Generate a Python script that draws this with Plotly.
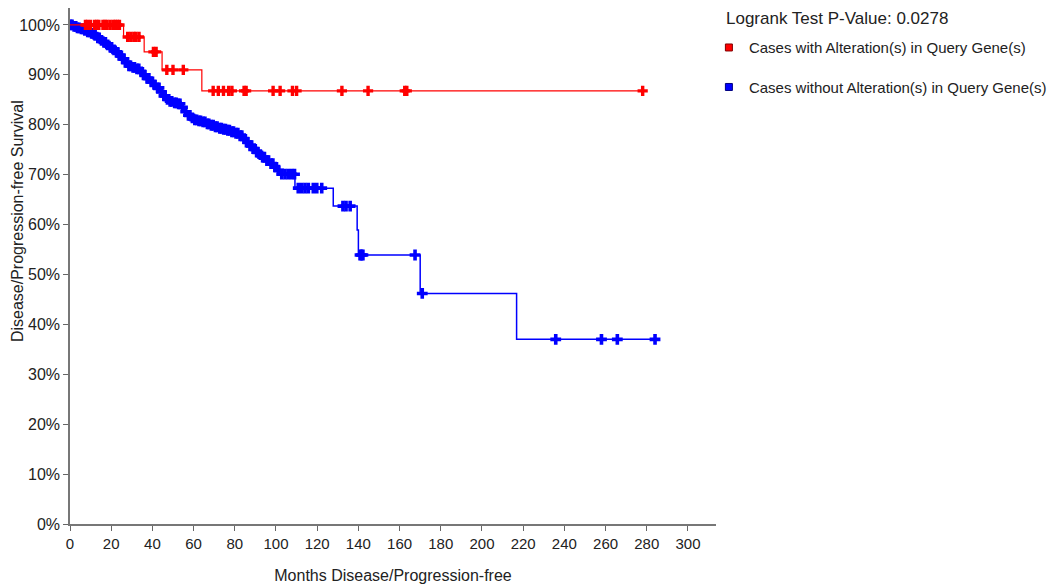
import plotly.graph_objects as go

# ---- data (months, survival fraction)
red_time = [0, 26, 36, 44.7, 64, 278]
red_surv = [1.0, 0.976, 0.946, 0.910, 0.868, 0.868]
red_cens = [7.5, 8.5, 10, 12, 13, 14, 16, 17, 18, 19.5, 21, 22, 23, 24,
            28, 29.5, 31, 32, 33.5, 40.5, 41.8, 47, 50, 55,
            69.5, 72, 74.5, 77, 78.6, 84.5, 85.5, 98.6, 102, 108, 110,
            132, 144.7, 162.5, 163.5, 278]

blue_time = [0, 1.5, 3, 5, 6.5, 8, 10, 11.5, 13, 14.5, 16, 17.5, 19, 20.5, 22,
             23.5, 25, 26.5, 28, 30, 32, 34, 35.5, 37, 39, 40.5, 42, 43.5, 45,
             46.5, 48, 50, 52, 54, 55.5, 57, 58.5, 60, 62, 64, 66, 68, 70, 72,
             74, 76, 78, 80, 82, 84, 85.5, 87, 88.5, 90, 91.5, 93, 95, 97, 99,
             100.5, 102, 109.2, 127.8, 139.4, 140, 170, 216.8, 284]
blue_surv = [1.0, 0.997, 0.994, 0.992, 0.989, 0.986, 0.983, 0.979, 0.974, 0.969,
             0.965, 0.960, 0.955, 0.950, 0.945, 0.939, 0.932, 0.925, 0.918, 0.915,
             0.912, 0.906, 0.900, 0.893, 0.886, 0.880, 0.874, 0.866, 0.858, 0.851,
             0.847, 0.844, 0.842, 0.835, 0.826, 0.819, 0.814, 0.810, 0.808, 0.806,
             0.802, 0.799, 0.796, 0.793, 0.791, 0.789, 0.786, 0.783, 0.778, 0.772,
             0.765, 0.758, 0.752, 0.745, 0.740, 0.735, 0.728, 0.722, 0.715, 0.709,
             0.701, 0.673, 0.637, 0.589, 0.539, 0.462, 0.370, 0.370]
blue_cens = [0.3, 1, 2, 2.8, 3.6, 4.4, 5.5, 6.3, 7.2, 8.6, 9.4, 10.5, 11.2, 12.2,
             13.5, 14.2, 15.3, 16.5, 17.2, 18.3, 19.6, 20.2, 21.4, 22.6, 23.2,
             24.4, 25.6, 26.2, 27.3, 28.6, 29.4, 30.6, 31.3, 32.5, 33.4, 34.6,
             36.2, 37.4, 38.3, 39.5, 41.2, 42.5, 43.2, 44.4, 45.6, 46.2, 47.3,
             48.6, 49.4, 50.8, 51.6, 52.7, 53.4, 54.6, 56.2, 57.5, 58.2, 59.4,
             60.6, 61.5, 62.6, 63.4, 64.6, 65.5, 66.7, 67.4, 68.6, 69.5, 70.6,
             71.4, 72.7, 73.5, 74.6, 75.5, 76.6, 77.4, 78.6, 79.4, 80.6, 81.5,
             82.6, 83.4, 84.6, 86.2, 87.4, 88.2, 89.4, 90.6, 91.2, 92.4, 93.5,
             94.4, 95.6, 96.4, 97.6, 98.5, 99.6, 101.2,
             102.8, 104.4, 106, 107.6, 109,
             110.8, 112.5, 114.1, 115.7, 118.1, 119.8, 122.2,
             132.5, 134, 136, 140.8, 141.5, 142.2, 167.5, 171,
             235.8, 258, 265.7, 284]

x_ticks = list(range(0, 301, 20))
y_ticks = [0, 0.1, 0.2, 0.3, 0.4, 0.5, 0.6, 0.7, 0.8, 0.9, 1.0]


def surv_at(t, times, surv):
    s = surv[0]
    for tt, ss in zip(times, surv):
        if tt <= t:
            s = ss
    return s


RED = '#ff0000'
BLUE = '#0000ff'

fig = go.Figure()

# blue group
fig.add_trace(go.Scatter(x=blue_time, y=blue_surv, mode='lines', line_shape='hv',
                         line=dict(color=BLUE, width=1.5), showlegend=False, hoverinfo='skip'))
fig.add_trace(go.Scatter(x=blue_cens, y=[surv_at(t, blue_time, blue_surv) for t in blue_cens],
                         mode='markers', marker=dict(symbol='cross', size=9, color=BLUE),
                         showlegend=False))
# red group
fig.add_trace(go.Scatter(x=red_time, y=red_surv, mode='lines', line_shape='hv',
                         line=dict(color=RED, width=1.2), showlegend=False, hoverinfo='skip'))
fig.add_trace(go.Scatter(x=red_cens, y=[surv_at(t, red_time, red_surv) for t in red_cens],
                         mode='markers', marker=dict(symbol='cross', size=8.5, color=RED),
                         showlegend=False))

# legend entries
fig.add_trace(go.Scatter(x=[None], y=[None], mode='markers', legendgroup='a',
                         name='Cases with Alteration(s) in Query Gene(s)',
                         marker=dict(symbol='square', size=7, color=RED,
                                     line=dict(color='#800000', width=1))))
fig.add_trace(go.Scatter(x=[None], y=[None], mode='markers', legendgroup='b',
                         name='Cases without Alteration(s) in Query Gene(s)',
                         marker=dict(symbol='square', size=7, color=BLUE,
                                     line=dict(color='#000080', width=1))))

FONT = 'Arial, Liberation Sans, sans-serif'
axis_font = dict(family=FONT, size=16, color='#222')

# the page puts the plot 8px in from the top-left, so the figure is a bit smaller
fig.update_layout(
    width=1054, height=576,
    margin=dict(l=62, r=346, t=0, b=60, autoexpand=False),
    plot_bgcolor='white', paper_bgcolor='white',
    font=axis_font,
    showlegend=True,
    legend=dict(x=0.989, y=0.955, xanchor='left', yanchor='top',
                tracegroupgap=17, font=dict(family=FONT, size=15, color='#222'),
                bgcolor='rgba(0,0,0,0)'),
    xaxis=dict(range=[0, 313.6], tickvals=x_ticks, ticks='outside', ticklen=5,
               tickcolor='#666', showline=True, linecolor='#777', linewidth=1.5,
               showgrid=False, zeroline=False,
               tickfont=dict(family=FONT, size=15, color='#222'),
               title=dict(text='Months Disease/Progression-free', standoff=20,
                          font=axis_font)),
    yaxis=dict(range=[0, 1.034], tickvals=y_ticks, tickformat='.0%', ticks='outside',
               ticklen=5, tickcolor='#666', showline=True, linecolor='#777',
               linewidth=1.5, showgrid=False, zeroline=False, tickfont=axis_font),
    annotations=[
        dict(text='Logrank Test P-Value: 0.0278', xref='paper', yref='paper',
             x=1.0, y=1.0, xanchor='left', yanchor='top', showarrow=False,
             xshift=8, yshift=1, font=dict(family=FONT, size=17, color='#222')),
        dict(text='Disease/Progression-free Survival', xref='paper', yref='paper',
             x=0, y=0.587, xanchor='center', yanchor='middle', textangle=-90,
             showarrow=False, xshift=-53, font=axis_font),
    ],
)

fig.write_html("out.html")
